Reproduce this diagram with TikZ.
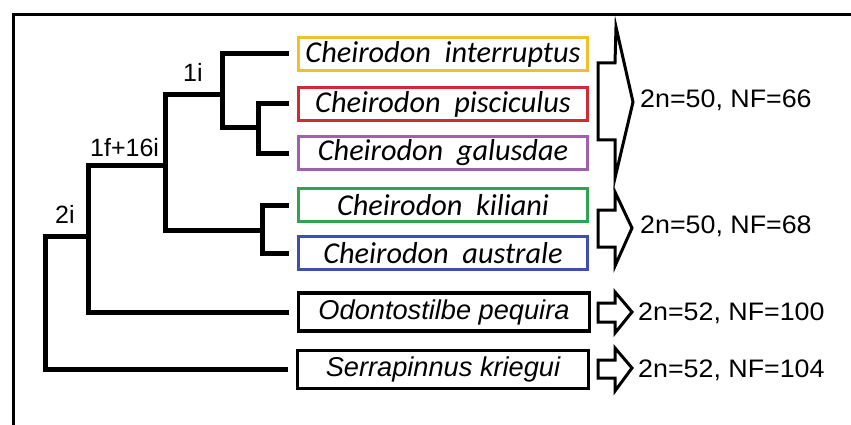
\documentclass[tikz,border=0pt]{standalone}
\usepackage{fontspec}
\setmainfont{Liberation Sans}
\newfontfamily\carlito{Carlito}
\newfontfamily\labfont[FakeStretch=1.06]{Liberation Sans}
\definecolor{cyel}{HTML}{F0C030}
\definecolor{cred}{HTML}{D02A36}
\definecolor{cpur}{HTML}{A060B0}
\definecolor{cgrn}{HTML}{2EA352}
\definecolor{cblu}{HTML}{3F4FB0}
\begin{document}
\begin{tikzpicture}[x=1pt,y=-1pt,
  tree/.style={line width=5pt,line join=miter,line cap=butt},
  sp/.style={draw=#1,line width=3pt,minimum width=289pt,minimum height=33pt,inner sep=0pt,
    font=\fontsize{30.3}{31}\selectfont\carlito\itshape},
  bsp/.style={draw=black,line width=3.2pt,minimum width=291pt,minimum height=38pt,inner sep=0pt,
    font=\fontsize{27.2}{28}\selectfont\itshape},
  lab/.style={anchor=base west,inner sep=0pt,font=\fontsize{25.3}{26}\selectfont\labfont},
  brl/.style={anchor=base west,inner sep=0pt,font=\fontsize{25}{26}\selectfont},
  bigarrow/.style={draw=black,fill=white,line width=3pt,line join=miter}]
\useasboundingbox (0,0) rectangle (851,425);
% frame
\draw[line width=3pt] (13.5,425) -- (13.5,14.5) -- (851,14.5);
% species boxes
\node[sp=cyel] (int) at (443,54) {Cheirodon\ \ interruptus};
\node[sp=cred] (pis) at (443,104) {Cheirodon\ \ pisciculus};
\node[sp=cpur] (gal) at (443,153) {Cheirodon\ \ galusdae};
\node[sp=cgrn] (kil) at (443,205) {Cheirodon\ \ kiliani};
\node[sp=cblu] (aus) at (443,253) {Cheirodon\ \ australe};
\node[bsp] (odo) at (444,312) {Odontostilbe pequira};
\node[bsp] (ser) at (443,369.5) {Serrapinnus kriegui\hspace{8pt}};
% internal nodes
\coordinate (n2i) at (45,236);
\coordinate (n1f) at (88,236);
\coordinate (nA) at (165,165);
\coordinate (nB) at (222,95);
\coordinate (nC) at (262,230);
\coordinate (nD) at (258,128);
% tree
\draw[tree,shorten >=8pt] (n1f) -- (n2i) |- (ser.west);
\draw[tree,shorten >=8pt] (nA) -| (n1f) |- (odo.west);
\draw[tree] (nB) -| (nA) |- (nC);
\draw[tree,shorten <=8pt] (int.west) -| (nB) |- (nD);
\draw[tree,shorten <=8pt,shorten >=8pt] (pis.west) -| (nD) |- (gal.west);
\draw[tree,shorten <=8pt,shorten >=8pt] (kil.west) -| (nC) |- (aus.west);
% branch labels
\node[brl] (l2i) at (55,223) {2i};
\node[brl] (l1f) at (90,157) {1f+16i};
\node[brl] (l1i) at (183,82) {1i};
% arrows
\draw[bigarrow] (598,63) -- (615,63) -- (616,27) -- (633,102) -- (615,178) -- (615,140) -- (598,140) -- cycle;
\draw[bigarrow] (598,210) -- (615,210) -- (615,192) -- (632,228) -- (615,266) -- (615,247) -- (598,247) -- cycle;
\draw[bigarrow] (598,303) -- (615,303) -- (615,292) -- (632,312) -- (615,333) -- (615,322) -- (598,322) -- cycle;
\draw[bigarrow] (598,360) -- (615,360) -- (615,348) -- (632,368) -- (615,391) -- (615,378) -- (598,378) -- cycle;
% karyotype labels
\node[lab] (k1) at (640,108) {2n=50, NF=66};
\node[lab] (k2) at (640,233) {2n=50, NF=68};
\node[lab] (k3) at (638,320) {2n=52, NF=100};
\node[lab] (k4) at (638,377) {2n=52, NF=104};
\end{tikzpicture}
\end{document}
